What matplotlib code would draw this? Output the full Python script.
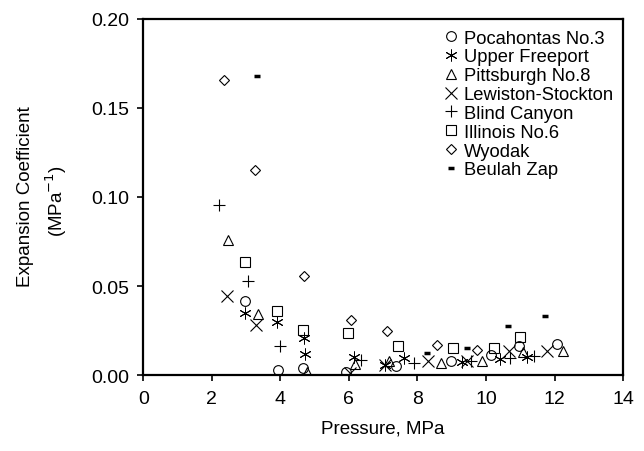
import matplotlib
matplotlib.use("Agg")
import matplotlib.pyplot as plt

plt.rcParams['font.family'] = ['Liberation Sans', 'DejaVu Sans']

# Data (pressure MPa, expansion coefficient MPa^-1)
poca_x = [2.97, 3.92, 4.65, 5.92, 7.38, 8.98, 10.15, 10.95, 12.07]
poca_y = [0.0416, 0.0026, 0.0038, 0.0019, 0.0049, 0.0080, 0.0112, 0.0165, 0.0174]

upper_x = [2.97, 3.90, 4.69, 4.72, 6.15, 7.05, 7.61, 9.30, 10.40, 11.20]
upper_y = [0.0348, 0.0300, 0.0206, 0.0118, 0.0100, 0.0055, 0.0094, 0.0075, 0.0090, 0.0099]

pitt_x = [2.48, 3.34, 4.77, 6.18, 7.18, 8.69, 9.88, 11.08, 12.25]
pitt_y = [0.0760, 0.0343, 0.0017, 0.0062, 0.0080, 0.0067, 0.0080, 0.0131, 0.0137]

lewis_x = [2.45, 3.29, 6.04, 7.04, 8.32, 9.45, 10.66, 11.78]
lewis_y = [0.0442, 0.0281, 0.0010, 0.0056, 0.0080, 0.0080, 0.0137, 0.0137]

blind_x = [2.22, 3.07, 3.99, 6.35, 7.91, 9.56, 10.71, 11.39]
blind_y = [0.0955, 0.0528, 0.0165, 0.0086, 0.0067, 0.0080, 0.0094, 0.0105]

illi_x = [2.97, 3.90, 4.65, 5.96, 7.42, 9.04, 10.22, 11.00]
illi_y = [0.0637, 0.0361, 0.0253, 0.0236, 0.0161, 0.0150, 0.0152, 0.0212]

wyo_x = [2.36, 3.26, 4.69, 6.06, 7.11, 8.57, 9.75]
wyo_y = [0.1657, 0.1153, 0.0554, 0.0311, 0.0249, 0.0169, 0.0142]

beulah_x = [3.31, 8.28, 9.44, 10.63, 11.73]
beulah_y = [0.1680, 0.0124, 0.0152, 0.0277, 0.0333]

labels = ["Pocahontas No.3", "Upper Freeport", "Pittsburgh No.8",
          "Lewiston-Stockton", "Blind Canyon", "Illinois No.6",
          "Wyodak", "Beulah Zap"]

x_ticks = [0, 2, 4, 6, 8, 10, 12, 14]
y_ticks = [0.00, 0.05, 0.10, 0.15, 0.20]

fig = plt.figure(figsize=(6.44, 4.52), dpi=100)
ax = fig.add_axes([0.2225, 0.168, 0.745, 0.788])

common = dict(linestyle='none', color='black')
ax.plot(poca_x, poca_y, marker='o', ms=7, mfc='none', mec='black', mew=0.8, label=labels[0], **common)
ax.plot(upper_x, upper_y, marker=(6, 2, 0), ms=8.5, mec='black', mew=0.7, label=labels[1], **common)
ax.plot(pitt_x, pitt_y, marker='^', ms=7.5, mfc='none', mec='black', mew=0.8, label=labels[2], **common)
ax.plot(lewis_x, lewis_y, marker='x', ms=8, mec='black', mew=0.8, label=labels[3], **common)
ax.plot(blind_x, blind_y, marker='+', ms=8.5, mec='black', mew=0.8, label=labels[4], **common)
ax.plot(illi_x, illi_y, marker='s', ms=6.8, mfc='none', mec='black', mew=0.8, label=labels[5], **common)
ax.plot(wyo_x, wyo_y, marker='D', ms=5.5, mfc='none', mec='black', mew=0.8, label=labels[6], **common)
ax.plot(beulah_x, beulah_y, marker='_', ms=5, mec='black', mew=2.5, label=labels[7], **common)

ax.set_xlim(0, 14)
ax.set_ylim(0, 0.20)
ax.set_xticks(x_ticks)
ax.set_xticklabels([str(t) for t in x_ticks])
ax.set_yticks(y_ticks)
ax.set_yticklabels([f"{t:.2f}" for t in y_ticks])
ax.tick_params(axis='both', direction='out', length=4, width=1.2, labelsize=14)
ax.tick_params(axis='x', pad=7)
ax.tick_params(axis='y', pad=6)
for s in ax.spines.values():
    s.set_linewidth(1.6)
    s.set_color('black')

ax.set_xlabel("Pressure, MPa", fontsize=13.5, labelpad=9)
fig.text(25.5 / 644, 1 - 197 / 452, "Expansion Coefficient", rotation=90,
         ha='center', va='center', fontsize=13.5)
fig.text(56 / 644, 1 - 201 / 452, "(MPa$^{-1}$)", rotation=90,
         ha='center', va='center', fontsize=13.5)

leg = ax.legend(loc='upper left', bbox_to_anchor=(0.626, 0.97), frameon=False,
                fontsize=13.2, handlelength=0.8, handletextpad=0.3,
                labelspacing=0.1, borderpad=0, borderaxespad=0, numpoints=1)

fig.savefig("out.png", dpi=100)
